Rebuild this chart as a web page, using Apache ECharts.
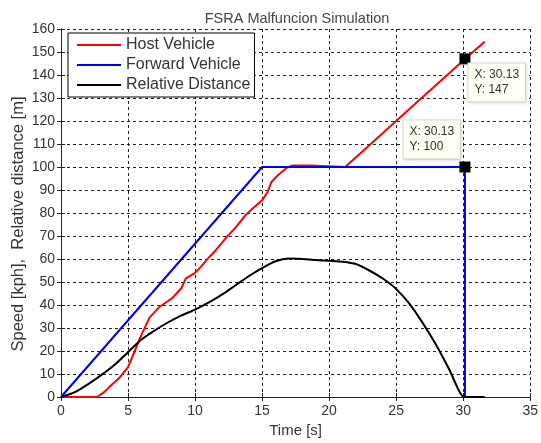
<!DOCTYPE html>
<html>
<head>
<meta charset="utf-8">
<script src="https://cdn.jsdelivr.net/npm/echarts@6/dist/echarts.min.js"></script>
<style>
  html, body { margin: 0; padding: 0; background: #fff; }
  #chart { width: 541px; height: 443px; }
</style>
</head>
<body>
<div id="chart"></div>
<script>
// 数据
const hostT = [0, 2.7, 3.2, 3.6, 4.4, 5.0, 5.5, 6.0, 6.6, 7.0, 7.3, 7.8, 8.3, 9.0, 9.3, 10.0, 10.5, 11.0, 11.5, 12.0, 12.5, 13.0, 13.75, 14.3, 15.0, 15.4, 15.7, 16.2, 16.8, 17.2, 18.6, 18.7, 21.2, 23.0, 25.0, 27.0, 29.0, 30.13, 31.6]
const hostV = [0, 0, 2, 4.3, 8.6, 13, 20, 27, 34.5, 37, 39, 41, 43, 47.5, 51.5, 54, 57, 60.5, 63.5, 67, 70.5, 73.5, 79, 82, 85.5, 89, 93.5, 96.5, 99.5, 100.6, 100.6, 100, 100, 109.5, 120, 130.5, 141, 147, 154.5]

const fwdT = [0, 15, 30.13, 30.13]
const fwdV = [0, 100, 100, 0]

const relT = [0, 1, 2, 3, 4, 5, 6, 7, 8, 9, 10, 11, 12, 13, 14, 15, 16, 17, 18, 19, 20, 21, 22, 23, 24, 25, 26, 27, 28, 28.6, 29, 29.5, 29.8, 30.1, 31.6]
const relV = [0, 2, 5.5, 9.5, 14, 19.5, 25, 29, 32.5, 35.5, 38, 41, 44.5, 48.5, 52.5, 56, 59, 60.2, 60, 59.6, 59.2, 58.8, 57.8, 55, 51.5, 47, 40.5, 32, 22.5, 16, 11.5, 5, 1.5, 0, 0]

const markX = [30.13, 30.13]
const markY = [147, 100]

const xTicks = { min: 0, max: 35, interval: 5 }
const yTicks = { min: 0, max: 160, interval: 10 }

const zip = (a, b) => a.map((v, i) => [v, b[i]])

const txt = '#333'
const font = 'Liberation Sans, Arial, sans-serif'
const axisCol = '#222'
const dash = { color: '#222', type: [3, 3], width: 1 }

const myChart = echarts.init(document.getElementById('chart'))

const option = {
  backgroundColor: '#fff',
  animation: false,
  textStyle: { fontFamily: font },
  title: {
    text: 'FSRA Malfuncion Simulation',
    left: 292,
    top: 6,
    textAlign: 'center',
    textStyle: { fontSize: 14.5, fontWeight: 'normal', color: '#444', fontFamily: font }
  },
  grid: { left: 61, right: 8, top: 29, bottom: 43 },
  // y 轴标题（整体略偏下，用 graphic 放置）
  graphic: [
    {
      type: 'text',
      x: 18,
      y: 224,
      rotation: Math.PI / 2,
      style: {
        text: 'Speed [kph],  Relative distance [m]',
        fill: txt,
        font: '16.5px Liberation Sans, Arial, sans-serif',
        textAlign: 'center',
        textVerticalAlign: 'middle'
      }
    }
  ],
  legend: {
    data: ['Host Vehicle', 'Forward Vehicle', 'Relative Distance'],
    orient: 'vertical',
    left: 68,
    top: 33,
    icon: 'path://M0,0 L44,0 L44,2 L0,2 Z',
    itemWidth: 44,
    itemHeight: 2,
    itemGap: 4,
    padding: [4, 4, 4, 9],
    borderColor: '#000',
    borderWidth: 1,
    backgroundColor: '#fff',
    textStyle: { fontSize: 16, color: txt, fontFamily: font }
  },
  xAxis: [
    {
      type: 'value',
      ...xTicks,
      name: 'Time [s]',
      nameLocation: 'middle',
      nameGap: 26,
      nameTextStyle: { fontSize: 15, color: txt },
      axisLine: { lineStyle: { color: axisCol } },
      axisTick: { inside: true, length: 4, lineStyle: { color: axisCol } },
      axisLabel: { fontSize: 14, color: txt, margin: 7 },
      splitLine: { show: true, lineStyle: dash }
    },
    {
      type: 'value',
      position: 'top',
      ...xTicks,
      axisLine: { lineStyle: { color: axisCol } },
      axisTick: { inside: true, length: 4, lineStyle: { color: axisCol } },
      axisLabel: { show: false },
      splitLine: { show: false }
    }
  ],
  yAxis: [
    {
      type: 'value',
      ...yTicks,
      axisLine: { show: true, lineStyle: { color: axisCol } },
      axisTick: { show: true, inside: true, length: 4, lineStyle: { color: axisCol } },
      axisLabel: { fontSize: 14, color: txt, margin: 6 },
      splitLine: { show: true, lineStyle: dash }
    },
    {
      type: 'value',
      position: 'right',
      ...yTicks,
      axisLine: { show: true, lineStyle: { color: axisCol } },
      axisTick: { show: true, inside: true, length: 4, lineStyle: { color: axisCol } },
      axisLabel: { show: false },
      splitLine: { show: false }
    }
  ],
  series: [
    {
      name: 'Host Vehicle',
      type: 'line',
      data: zip(hostT, hostV),
      symbol: 'none',
      color: '#ff0000',
      lineStyle: { width: 2, color: '#ff0000' },
      z: 2
    },
    {
      name: 'Forward Vehicle',
      type: 'line',
      data: zip(fwdT, fwdV),
      symbol: 'none',
      color: '#0000ee',
      lineStyle: { width: 2, color: '#0000ee' },
      z: 3
    },
    {
      name: 'Relative Distance',
      type: 'line',
      data: zip(relT, relV),
      symbol: 'none',
      smooth: 0.25,
      color: '#000',
      lineStyle: { width: 2, color: '#000' },
      z: 4
    },
    {
      name: 'cursor',
      type: 'scatter',
      symbol: 'rect',
      symbolSize: 11,
      itemStyle: { color: '#000', opacity: 1 },
      z: 6,
      data: markX.map((x, i) => ({
        value: [x, markY[i]],
        label: i === 0
          ? { position: [9, 10] }
          : { position: [-56, -41] }
      })),
      label: {
        show: true,
        formatter: p => 'X: ' + p.value[0] + '\nY: ' + p.value[1],
        fontSize: 12,
        lineHeight: 15,
        color: txt,
        backgroundColor: '#fffff4',
        borderColor: '#dcdccc',
        borderWidth: 1,
        padding: [4, 6, 4, 6],
        shadowColor: 'rgba(0,0,0,0.12)',
        shadowBlur: 3,
        shadowOffsetX: 1,
        shadowOffsetY: 1
      }
    }
  ]
}

myChart.setOption(option)
</script>
</body>
</html>
